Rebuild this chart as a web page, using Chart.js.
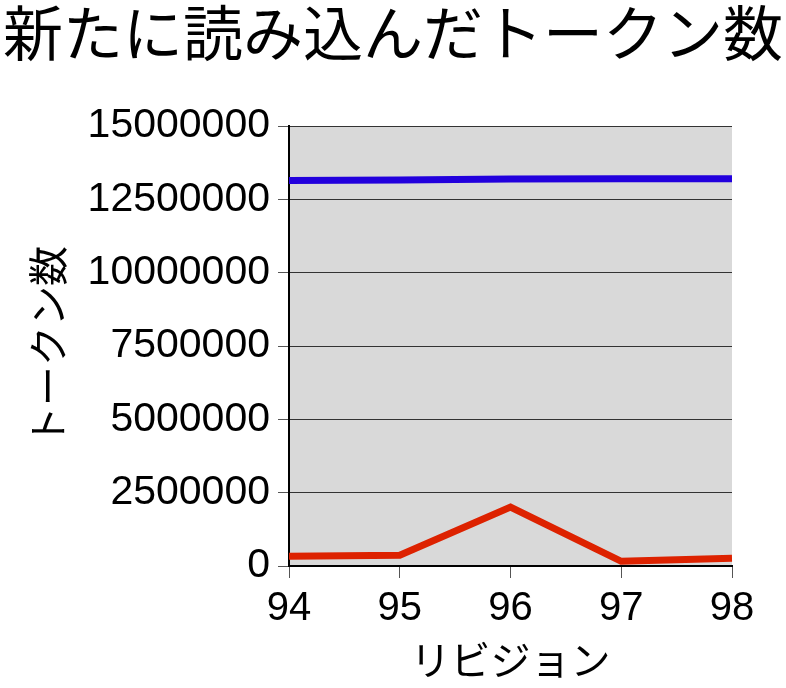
<!DOCTYPE html>
<html lang="ja">
<head>
  <meta charset="UTF-8">
  <title>新たに読み込んだトークン数</title>
  <script src="https://cdn.jsdelivr.net/npm/chart.js"></script>
  <style>
    body { margin: 0; background: #fff; }
    #wrap { width: 786px; height: 688px; }
  </style>
</head>
<body>
  <div id="wrap"><canvas id="chart" width="786" height="688"></canvas></div>
  <script>
    const revisions = ['94', '95', '96', '97', '98'];
    const totalTokens = [13140000, 13160000, 13190000, 13200000, 13200000];
    const newTokens = [330000, 370000, 2010000, 160000, 260000];
    const yTicks = [0, 2500000, 5000000, 7500000, 10000000, 12500000, 15000000];

    const FONT = "'Liberation Sans', 'Noto Sans CJK JP', sans-serif";

    // グラフ領域の背景
    const plotBg = {
      id: 'plotBg',
      beforeDraw(chart) {
        const { ctx, chartArea: a } = chart;
        ctx.save();
        ctx.fillStyle = '#d9d9d9';
        ctx.fillRect(a.left, a.top, a.right - a.left, a.bottom - a.top);
        ctx.restore();
      }
    };

    new Chart(document.getElementById('chart'), {
      type: 'line',
      data: {
        labels: revisions,
        datasets: [
          { data: totalTokens, borderColor: '#2200dd', borderWidth: 7, pointRadius: 0, tension: 0 },
          { data: newTokens, borderColor: '#dd2200', borderWidth: 7, pointRadius: 0, tension: 0 }
        ]
      },
      options: {
        responsive: false,
        animation: false,
        layout: { padding: 0 },
        plugins: {
          legend: { display: false },
          tooltip: { enabled: false },
          title: {
            display: true,
            text: '新たに読み込んだトークン数',
            color: '#000',
            font: { family: FONT, size: 60, weight: 'normal' },
            padding: { top: 3, bottom: 51 }
          }
        },
        scales: {
          x: {
            offset: false,
            grid: { drawOnChartArea: false, drawTicks: true, tickLength: 12, tickColor: '#555' },
            border: { color: '#000', width: 2 },
            ticks: { color: '#000', font: { family: FONT, size: 40 }, padding: 7, maxRotation: 0 },
            title: {
              display: true, text: 'リビジョン', color: '#000',
              font: { family: FONT, size: 40 }, padding: { top: 4, bottom: 0 }
            },
            afterFit(scale) { scale.height = 122; }
          },
          y: {
            min: 0,
            max: 15000000,
            afterBuildTicks(scale) { scale.ticks = yTicks.map(v => ({ value: v })); },
            grid: { color: '#333', lineWidth: 1, drawTicks: true, tickLength: 11, tickColor: '#555' },
            border: { color: '#000', width: 2 },
            ticks: { color: '#000', font: { family: FONT, size: 41 }, padding: 8, callback: v => String(v) },
            title: {
              display: true, text: 'トークン数', color: '#000',
              font: { family: FONT, size: 40 }, padding: { top: 28, bottom: 0 }
            },
            afterFit(scale) { scale.width = 289; }
          },
          // 右側の余白用（表示なし）
          yRight: {
            position: 'right',
            display: true,
            grid: { display: false },
            border: { display: false },
            ticks: { display: false },
            afterFit(scale) { scale.width = 54; }
          }
        }
      },
      plugins: [plotBg]
    });
  </script>
</body>
</html>
